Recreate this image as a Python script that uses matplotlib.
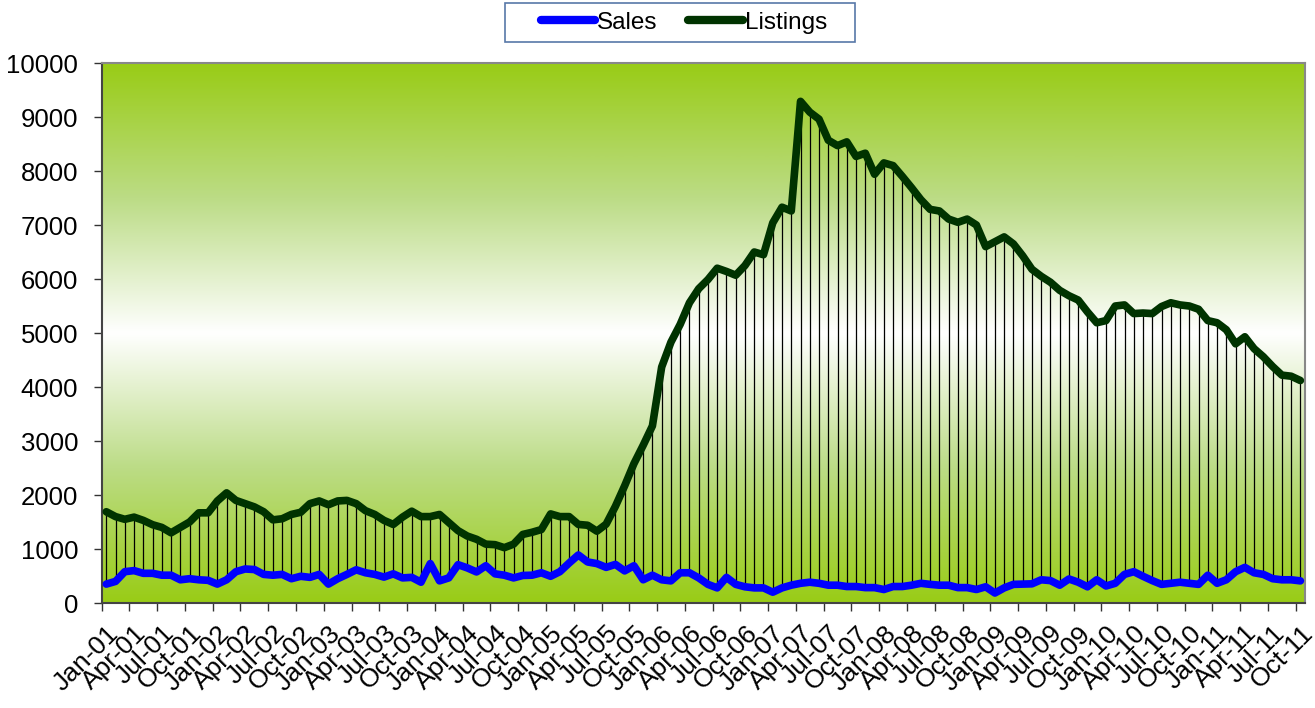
import matplotlib
matplotlib.use('Agg')
import matplotlib.pyplot as plt
from matplotlib.colors import LinearSegmentedColormap
from matplotlib.patches import Rectangle
import numpy as np
import pandas as pd

plt.rcParams['font.family'] = ['Liberation Sans', 'DejaVu Sans']

# monthly, Jan-01 .. Oct-11
months = pd.date_range('2001-01-01', periods=130, freq='MS').strftime('%b-%y').tolist()

listings = [
    1690, 1600, 1550, 1590, 1530, 1450, 1400, 1300, 1400, 1500,
    1670, 1670, 1890, 2040, 1900, 1840, 1780, 1690, 1540, 1560,
    1640, 1680, 1840, 1890, 1820, 1890, 1900, 1840, 1710, 1640,
    1530, 1455, 1590, 1700, 1600, 1600, 1640, 1490, 1340, 1240,
    1180, 1090, 1080, 1025, 1090, 1270, 1310, 1360, 1650, 1600,
    1600, 1455, 1440, 1330, 1460, 1790, 2170, 2580, 2920, 3280,
    4370, 4830, 5160, 5560, 5820, 5990, 6200, 6140, 6070, 6250,
    6500, 6450, 7040, 7330, 7260, 9290, 9090, 8960, 8570, 8470,
    8540, 8270, 8330, 7940, 8150, 8100, 7900, 7690, 7470, 7290,
    7260, 7110, 7050, 7110, 7000, 6600, 6690, 6780, 6650, 6430,
    6180, 6050, 5940, 5790, 5690, 5610, 5390, 5190, 5230, 5500,
    5520, 5360, 5370, 5360, 5490, 5560, 5520, 5500, 5440, 5230,
    5190, 5060, 4800, 4930, 4710, 4560, 4380, 4220, 4200, 4120,
]

sales = [
    350, 400, 580, 600, 550, 550, 515, 515, 430, 450,
    430, 420, 350, 430, 580, 630, 620, 530, 515, 530,
    450, 495, 475, 530, 350, 450, 530, 615, 560, 530,
    480, 540, 465, 475, 385, 730, 410, 465, 710, 650,
    575, 690, 540, 515, 465, 510, 515, 560, 495, 580,
    740, 890, 760, 730, 660, 715, 595, 690, 430, 515,
    430, 410, 560, 560, 465, 345, 280, 475, 345, 300,
    280, 280, 200, 280, 330, 365, 385, 365, 330, 330,
    305, 305, 285, 285, 250, 305, 305, 330, 365, 345,
    330, 330, 285, 285, 250, 300, 185, 280, 345, 350,
    355, 430, 415, 330, 445, 385, 300, 430, 315, 365,
    530, 580, 495, 415, 345, 365, 385, 365, 345, 515,
    365, 430, 580, 660, 560, 530, 450, 430, 430, 410,
]

x = np.arange(len(months))

fig = plt.figure(figsize=(13.15, 7.08), dpi=100)
ax = fig.add_axes([0.0773, 0.1483, 0.9151, 0.7627])

# green -> white -> green plot-area fill
green = '#99cc16'
cmap = LinearSegmentedColormap.from_list('bg', [green, '#bcdc86', '#ffffff', '#bcdc86', green])
grad = np.linspace(0, 1, 256).reshape(-1, 1)
ax.imshow(grad, extent=[-0.5, len(months) - 0.5, 0, 10000], aspect='auto',
          cmap=cmap, zorder=0, interpolation='bicubic')

ax.vlines(x, sales, listings, colors='black', linewidth=0.9, zorder=2)
ax.plot(x, sales, color='#0000ff', linewidth=5.5, solid_capstyle='round',
        solid_joinstyle='round', label='Sales', zorder=3)
ax.plot(x, listings, color='#003300', linewidth=5.5, solid_capstyle='round',
        solid_joinstyle='round', label='Listings', zorder=3)

ax.set_xlim(-0.5, len(months) - 0.5)
ax.set_ylim(0, 10000)
ax.set_yticks(range(0, 10001, 1000))
ax.tick_params(axis='y', labelsize=18.5, length=6, width=1, color='#333333', pad=11)

# tick marks between categories, labels under every third month
ticks = np.arange(0, len(months), 3)
ax.set_xticks(ticks)
ax.set_xticklabels([months[i] for i in ticks], rotation=45, ha='right',
                   va='top', rotation_mode='anchor', fontsize=19)
ax.tick_params(axis='x', which='major', length=0, pad=13)
ax.set_xticks(np.arange(-0.5, len(months), 3), minor=True)
ax.tick_params(axis='x', which='minor', length=6, width=1, color='#333333')

for s in ax.spines.values():
    s.set_color('#888888')
    s.set_linewidth(1.5)
ax.spines['left'].set_color('#444444')
ax.spines['bottom'].set_color('#444444')

# legend box drawn separately so it can be wider than its contents
fig.add_artist(Rectangle((505 / 1315, 1 - 42 / 708), 350 / 1315, 39 / 708,
                         transform=fig.transFigure, facecolor='white',
                         edgecolor='#5878a8', linewidth=1.2, zorder=5))
leg = fig.legend(loc='center', bbox_to_anchor=(0.52, 0.968), ncol=2,
                 fontsize=17.5, frameon=False, handlelength=2.25,
                 handletextpad=0.08, columnspacing=1.25, borderpad=0.3,
                 borderaxespad=0)
leg.set_zorder(6)
for h in leg.get_lines():
    h.set_linewidth(6)

fig.savefig('out.png', dpi=100)
